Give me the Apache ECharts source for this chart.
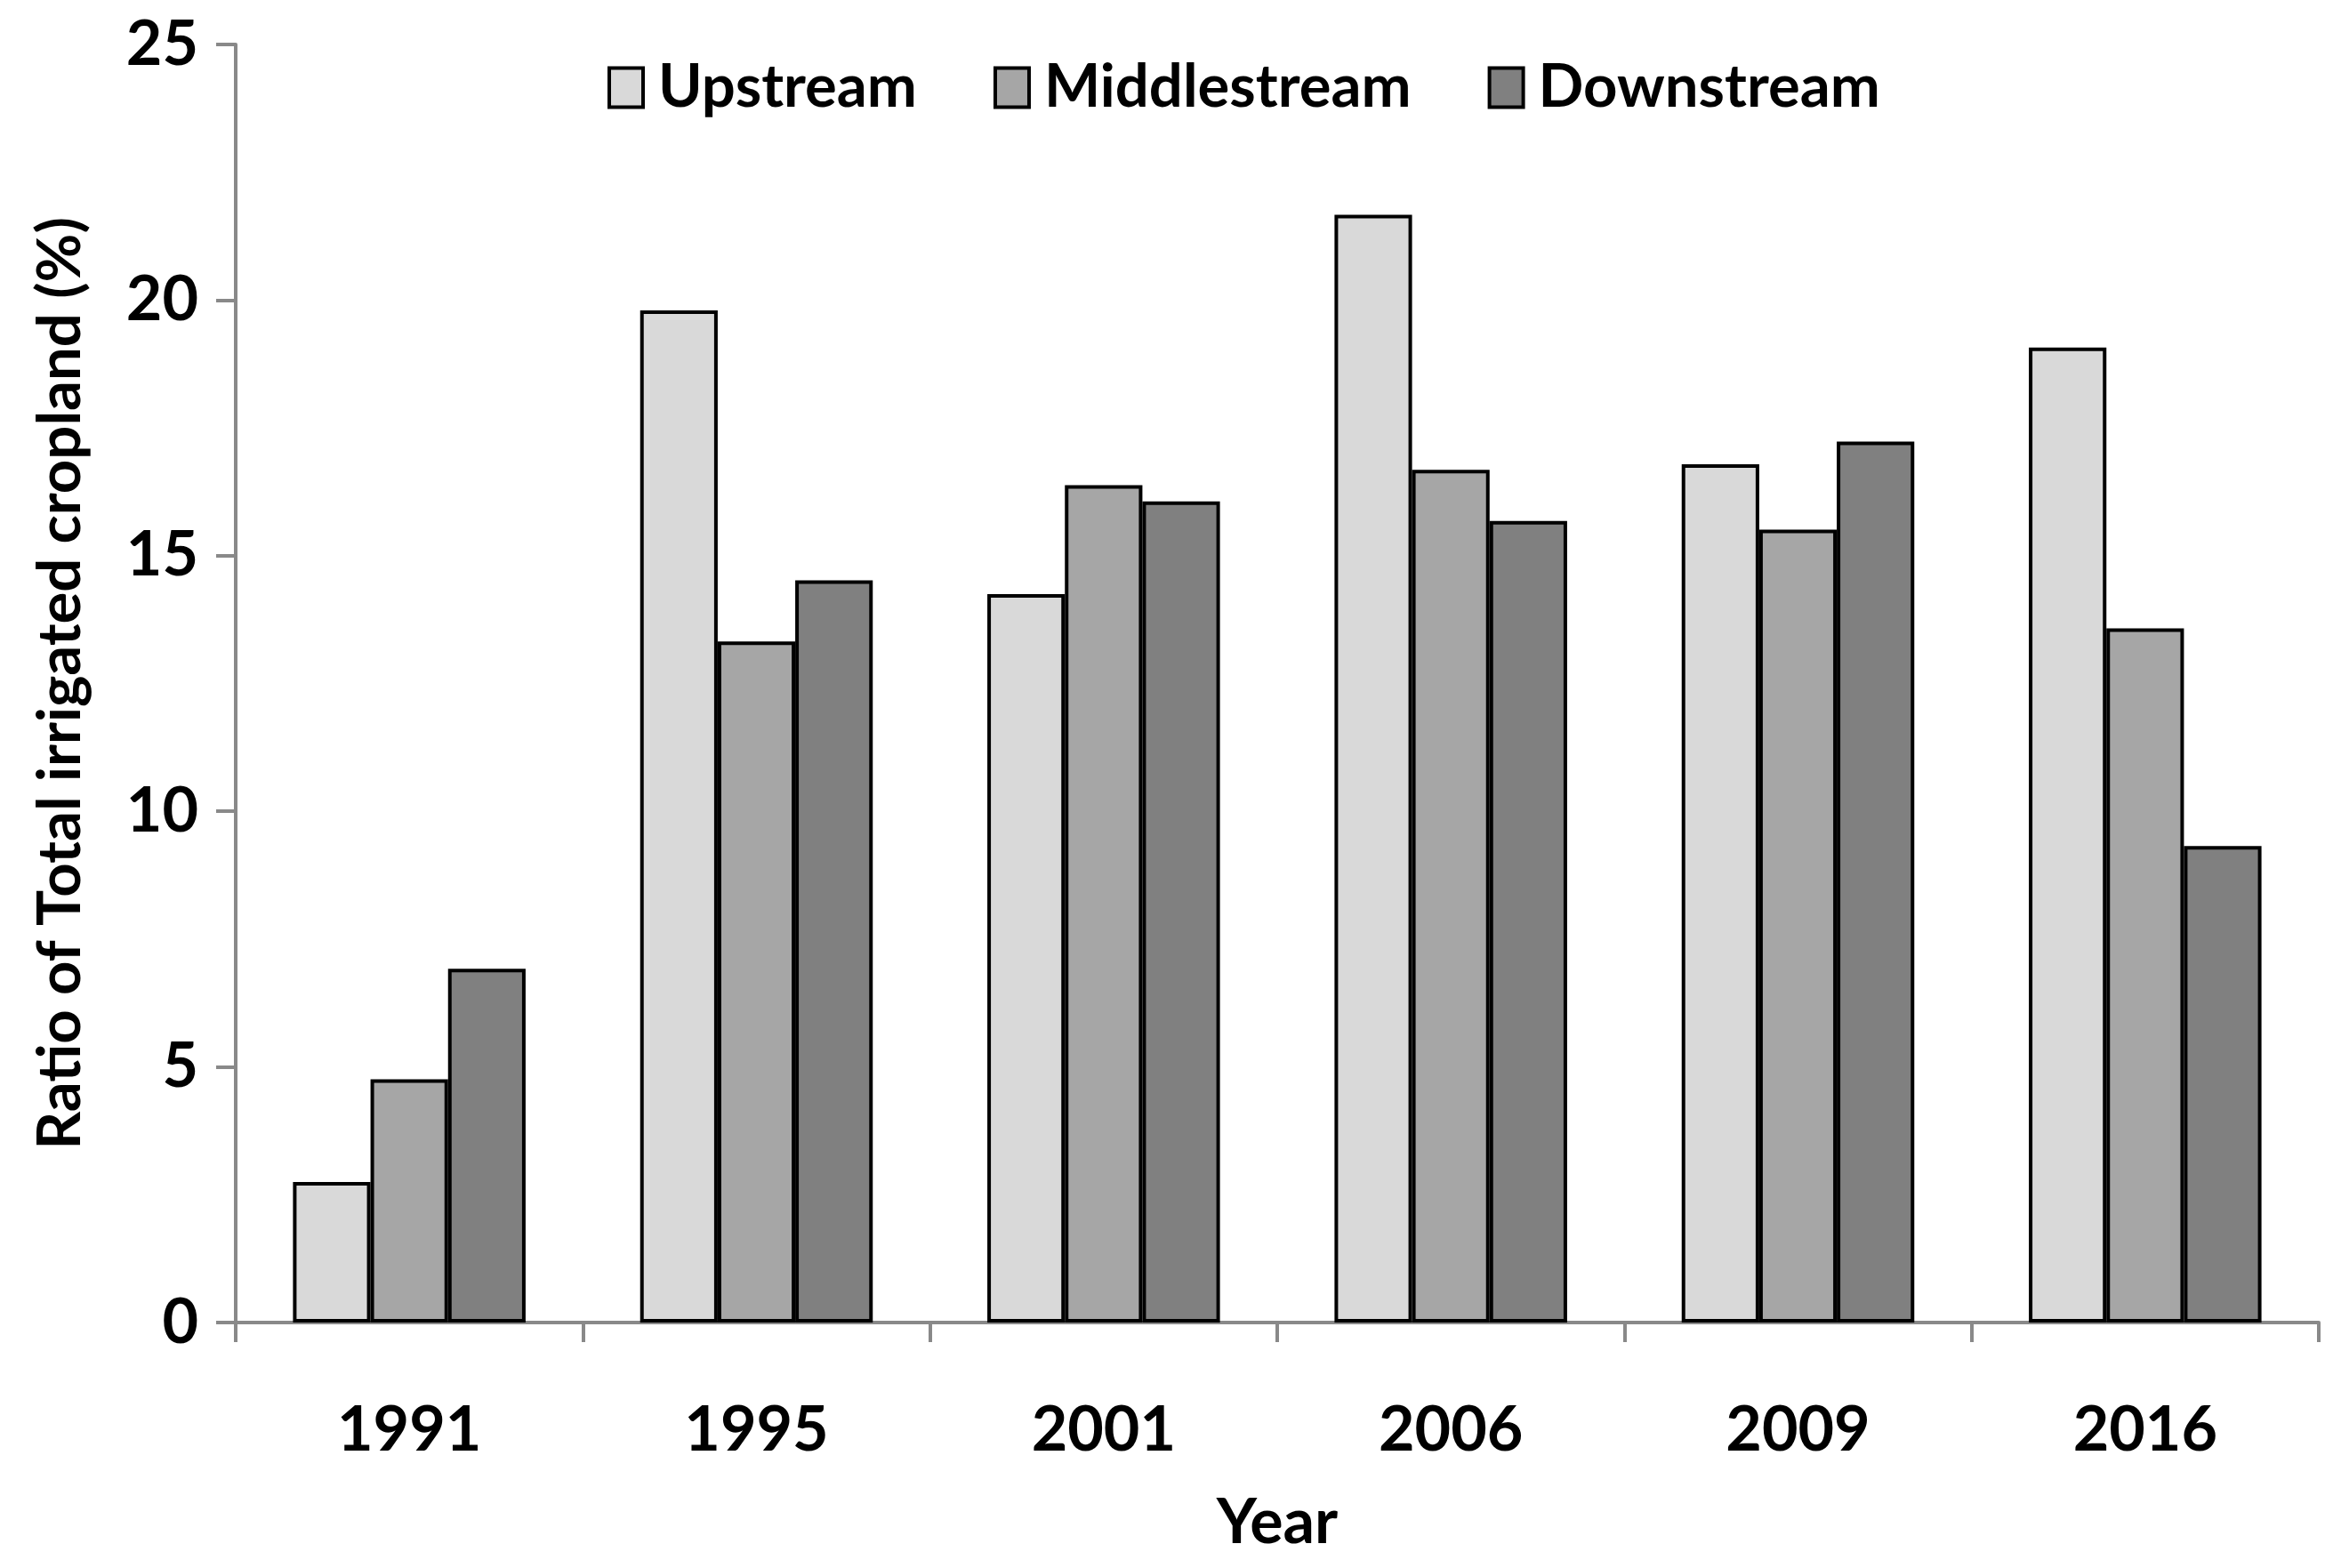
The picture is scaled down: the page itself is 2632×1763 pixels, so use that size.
<!DOCTYPE html>
<html><head><meta charset="utf-8">
<script src="https://cdn.jsdelivr.net/npm/echarts@6/dist/echarts.min.js"></script>
<style>html,body{margin:0;padding:0;background:#fff}#c{width:2632px;height:1763px}</style>
</head><body><div id="c"></div>
<script>
const years = ['1991','1995','2001','2006','2009','2016'];
const upstream = [2.75, 19.80, 14.25, 21.67, 16.79, 19.07];
const middlestream = [4.76, 13.32, 16.38, 16.68, 15.51, 13.58];
const downstream = [6.92, 14.52, 16.06, 15.68, 17.23, 9.32];
const seriesNames = ['Upstream','Middlestream','Downstream'];
const FONT = "Lato, 'DejaVu Sans Condensed', sans-serif";
const colors = ['#d9d9d9','#a6a6a6','#808080'];
const chart = echarts.init(document.getElementById('c'));
const mk = (name, data, i) => ({
  name, type: 'bar', data,
  itemStyle: {color: colors[i], borderColor: '#000', borderWidth: 4},
  barGap: '0%', barCategoryGap: '33%'
});
chart.setOption({
  animation: false,
  textStyle: {fontFamily: FONT},
  legend: {
    top: 60, left: 678, itemWidth: 38, itemHeight: 44, itemGap: 86,
    icon: 'rect',
    data: seriesNames,
    itemStyle: {borderColor: '#000', borderWidth: 4},
    textStyle: {fontFamily: FONT, fontWeight: 'bold', fontSize: 67, color: '#000', padding: [0,0,0,12]}
  },
  grid: {left: 265, right: 25, top: 50, bottom: 276, containLabel: false, outerBoundsMode: 'none'},
  xAxis: {
    type: 'category', data: years,
    name: 'Year', nameLocation: 'middle', nameGap: 190, nameMoveOverlap: false,
    nameTextStyle: {fontFamily: FONT, fontWeight: 'bold', fontSize: 70, color: '#000'},
    axisLine: {lineStyle: {color: '#898989', width: 4}},
    axisTick: {show: true, length: 22, lineStyle: {color: '#898989', width: 4}},
    axisLabel: {margin: 86, fontFamily: FONT, fontWeight: 'bold', fontSize: 70, color: '#000'}
  },
  yAxis: {
    type: 'value', min: 0, max: 25, interval: 5,
    name: 'Ratio of Total irrigated cropland (%)', nameLocation: 'middle', nameGap: 163, nameMoveOverlap: false,
    nameTextStyle: {fontFamily: FONT, fontWeight: 'bold', fontSize: 67, color: '#000'},
    splitLine: {show: false},
    axisLine: {show: true, lineStyle: {color: '#898989', width: 4}},
    axisTick: {show: true, length: 22, lineStyle: {color: '#898989', width: 4}},
    axisLabel: {margin: 42, fontFamily: FONT, fontWeight: 'bold', fontSize: 70, color: '#000'}
  },
  series: [mk(seriesNames[0], upstream, 0), mk(seriesNames[1], middlestream, 1), mk(seriesNames[2], downstream, 2)]
});
</script></body></html>
